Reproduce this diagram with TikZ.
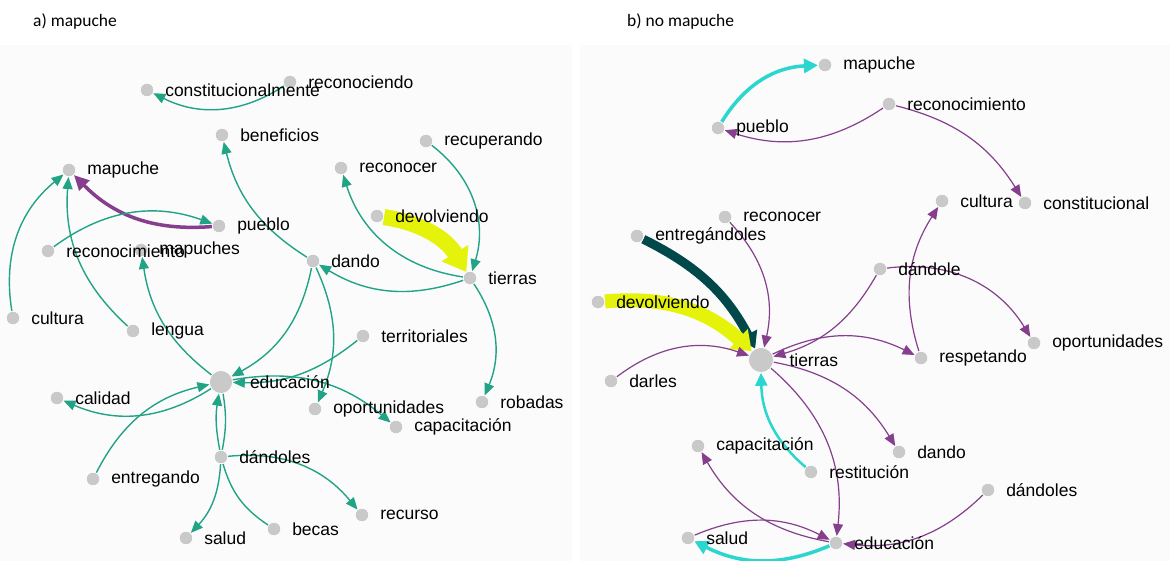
\documentclass[tikz,border=0pt]{standalone}
\usepackage{fontspec}
\setmainfont{Liberation Sans}
\newfontfamily\titlefont{Carlito}
\usepackage{tikz}
\usetikzlibrary{arrows.meta, backgrounds, positioning}

\definecolor{vgreen}{HTML}{21A386}
\definecolor{vpurple}{HTML}{853F8D}
\definecolor{vcyan}{HTML}{2BD6CF}
\definecolor{vyellow}{HTML}{E5F30B}
\definecolor{vteal}{HTML}{00484A}
\definecolor{dotgray}{HTML}{C9C9C9}
\definecolor{panelbg}{HTML}{FBFBFB}

\begin{document}
\begin{tikzpicture}[x=1pt, y=-1pt,
    dot/.style={circle, fill=dotgray, draw=white, line width=0.6pt, minimum size=13.5pt, inner sep=0pt},
    bigdot/.style={dot, minimum size=23pt},
    lbl/.style={font=\fontsize{17.5}{20}\selectfont, inner sep=0pt, xshift=11pt},
    biglbl/.style={lbl, xshift=6pt},
    title/.style={font=\titlefont\fontsize{17.5}{20}\selectfont, inner sep=0pt, anchor=west},
    edge/.style={bend left=25, line width=1.4pt, -{Triangle[length=12pt,width=10pt]}},
    gedge/.style={edge, draw=vgreen},
    pedge/.style={edge, draw=vpurple, line width=1.2pt},
    cedge/.style={edge, draw=vcyan, line width=3.5pt, -{Triangle[length=14pt,width=14pt]}}]
    \useasboundingbox (0,0) rectangle (1170,561);

    \node[title] (ta) at (33,22) {a) mapuche};
    \node[title] (tb) at (627,22) {b) no mapuche};

    % a) mapuche
    \node[dot, label={[lbl]right:reconociendo}] (arec) at (290,82) {};
    \node[dot, label={[lbl]right:constitucionalmente}] (acon) at (147,90) {};
    \node[dot, label={[lbl]right:beneficios}] (aben) at (222,135) {};
    \node[dot, label={[lbl]right:recuperando}] (arcp) at (426,141) {};
    \node[dot, label={[lbl]right:mapuche}] (amap) at (69,170) {};
    \node[dot, label={[lbl]right:reconocer}] (arcn) at (341,168) {};
    \node[dot, label={[lbl]right:pueblo}] (apue) at (219,226) {};
    \node[dot, label={[lbl]right:devolviendo}] (adev) at (377,216) {};
    \node[dot, label={[lbl]right:mapuches}] (amps) at (141,250) {};
    \node[dot, label={[lbl]right:reconocimiento}] (arcm) at (48,251) {};
    \node[dot, label={[lbl]right:dando}] (adan) at (313,261) {};
    \node[dot, label={[lbl]right:tierras}] (atie) at (470,278) {};
    \node[dot, label={[lbl]right:cultura}] (acul) at (13,318) {};
    \node[dot, label={[lbl]right:lengua}] (alen) at (133,331) {};
    \node[dot, label={[lbl]right:territoriales}] (ater) at (363,336) {};
    \node[bigdot, label={[biglbl]right:educación}] (aedu) at (221,382) {};
    \node[dot, label={[lbl]right:calidad}] (acal) at (57,398) {};
    \node[dot, label={[lbl]right:oportunidades}] (aopo) at (315,409) {};
    \node[dot, label={[lbl]right:robadas}] (arob) at (482,402) {};
    \node[dot, label={[lbl]right:capacitación}] (acap) at (396,427) {};
    \node[dot, label={[lbl]right:dándoles}] (adls) at (221,457) {};
    \node[dot, label={[lbl]right:entregando}] (aent) at (93,479) {};
    \node[dot, label={[lbl]right:recurso}] (arcs) at (362,515) {};
    \node[dot, label={[lbl]right:salud}] (asal) at (186,538) {};
    \node[dot, label={[lbl]right:becas}] (abec) at (274,529) {};

    % b) no mapuche
    \node[dot, label={[lbl]right:mapuche}] (bmap) at (825,65) {};
    \node[dot, label={[lbl]right:reconocimiento}] (brcm) at (889,104) {};
    \node[dot, label={[lbl]right:pueblo}] (bpue) at (718,128) {};
    \node[dot, label={[lbl]right:cultura}] (bcul) at (942,201) {};
    \node[dot, label={[lbl]right:constitucional}] (bcon) at (1025,203) {};
    \node[dot, label={[lbl]right:reconocer}] (brcn) at (725,217) {};
    \node[dot, label={[lbl]right:entregándoles}] (bent) at (637,236) {};
    \node[dot, label={[lbl]right:dándole}] (bdle) at (880,269) {};
    \node[dot, label={[lbl]right:devolviendo}] (bdev) at (598,302) {};
    \node[dot, label={[lbl]right:oportunidades}] (bopo) at (1034,343) {};
    \node[bigdot, minimum size=25pt, label={[biglbl, xshift=-1.5pt]right:tierras}] (btie) at (761,360) {};
    \node[dot, label={[lbl]right:respetando}] (bres) at (921,358) {};
    \node[dot, label={[lbl]right:darles}] (bdar) at (611,381) {};
    \node[dot, label={[lbl]right:capacitación}] (bcap) at (698,446) {};
    \node[dot, label={[lbl]right:dando}] (bdan) at (899,452) {};
    \node[dot, label={[lbl]right:restitución}] (brst) at (811,472) {};
    \node[dot, label={[lbl]right:dándoles}] (bdls) at (988,490) {};
    \node[dot, label={[lbl]right:salud}] (bsal) at (688,538) {};
    \node[dot, label={[lbl]right:educación}] (bedu) at (836,543) {};

    \begin{scope}[on background layer]
        \fill[panelbg] (0,45) rectangle (572,561);
        \fill[panelbg] (580,45) rectangle (1170,561);

        % a) edges
        \draw[gedge, bend left=30] (arec) to (acon);
        \draw[gedge, bend left=22] (adan) to (aben);
        \draw[gedge, bend left=35] (arcp) to (atie);
        \draw[gedge, bend left=32] (atie) to (arcn);
        \draw[edge, draw=vyellow, line width=16pt, -{Triangle[length=22pt,width=30pt]}] (adev) to (atie);
        \draw[gedge] (atie) to (adan);
        \draw[gedge, bend left=28] (atie) to (arob);
        \draw[edge, draw=vpurple, line width=3.5pt, -{Triangle[length=15pt,width=14pt]}] (apue) to (amap);
        \draw[gedge, bend left=28] (arcm) to (apue);
        \draw[gedge, bend left=30] (acul) to (amap);
        \draw[gedge, bend left=26] (alen) to (amap);
        \draw[gedge, bend left=22] (aedu) to (amps);
        \draw[gedge] (adan) to (aedu);
        \draw[gedge, bend left=24] (adan) to (aopo);
        \draw[gedge, bend left=20] (ater) to (aedu);
        \draw[gedge] (aedu) to (acap);
        \draw[gedge, bend left=28] (aedu) to (acal);
        \draw[gedge] (aent) to (aedu);
        \draw[gedge, bend left=10] (adls) to (aedu);
        \draw[gedge, bend left=10, -] (aedu) to (adls);
        \draw[gedge, bend left=20] (adls) to (asal);
        \draw[gedge, bend right=20, -] (adls) to (abec);
        \draw[gedge, bend left=28] (adls) to (arcs);

        % b) edges
        \draw[cedge, bend left=28] (bpue) to (bmap);
        \draw[pedge, bend left=26] (brcm) to (bpue);
        \draw[pedge, bend left=22] (brcm) to (bcon);
        \draw[edge, bend left=18, draw=vteal, line width=9pt, -{Triangle[length=16pt,width=20pt]}] (bent) to (btie);
        \draw[edge, bend left=24, draw=vyellow, line width=14pt, -{Triangle[length=18pt,width=26pt]}] (bdev) to (btie);
        \draw[pedge, bend left=28] (brcn) to (btie);
        \draw[pedge, bend left=28] (bdar) to (btie);
        \draw[pedge, bend left=26] (btie) to (bres);
        \draw[pedge, bend left=22] (bdle) to (btie);
        \draw[pedge] (bres) to (bcul);
        \draw[pedge, bend left=33] (bdle) to (bopo);
        \draw[pedge, bend left=24] (btie) to (bdan);
        \draw[pedge, bend left=28] (btie) to (bedu);
        \draw[cedge, bend left=24, line width=2.5pt, -{Triangle[length=13pt,width=12pt]}] (brst) to (btie);
        \draw[pedge] (bedu) to (bcap);
        \draw[pedge] (bsal) to (bedu);
        \draw[cedge] (bedu) to (bsal);
        \draw[pedge] (bdls) to (bedu);
    \end{scope}
\end{tikzpicture}
\end{document}
